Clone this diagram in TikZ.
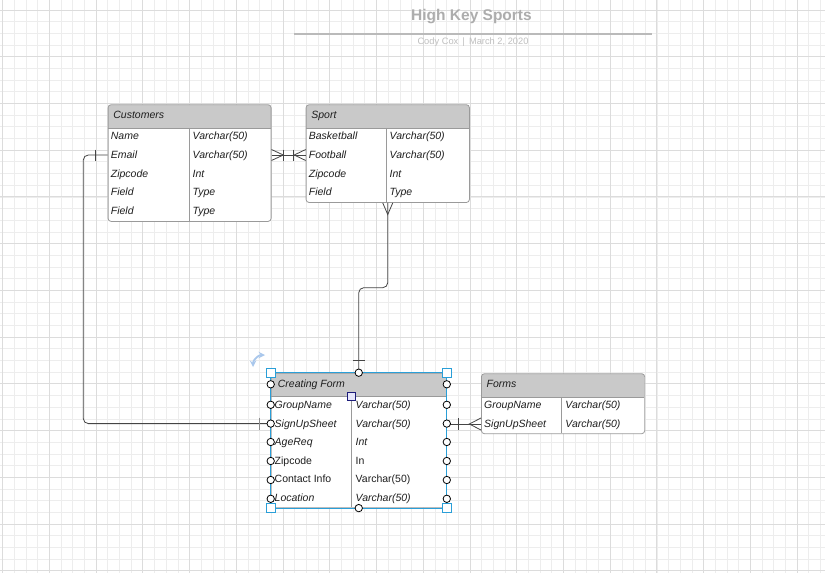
\documentclass[tikz,border=0pt]{standalone}
\usepackage{fontspec}
\setmainfont{Liberation Sans}
\usepackage{tikz}
\definecolor{minorgray}{HTML}{EDEDED}
\definecolor{majorgray}{HTML}{DCDCDC}
\definecolor{tblgray}{HTML}{9A9A9A}
\definecolor{hdrgray}{HTML}{C9C9C9}
\definecolor{txtcol}{HTML}{1E1E1E}
\definecolor{conncol}{HTML}{454545}
\definecolor{selblue}{HTML}{2A9FD8}
\definecolor{rotblue}{HTML}{A9C7EC}
\definecolor{navy}{HTML}{1C1C7A}
\definecolor{lavender}{HTML}{E6E6FA}
\tikzstyle{minorgrid} = [draw=minorgray, line width=0.8pt]
\tikzstyle{majorgrid} = [draw=majorgray, line width=0.9pt]
\tikzstyle{tablebox} = [draw=tblgray, fill=white, rounded corners=3pt, line width=0.8pt,
inner sep=0pt, anchor=north west, path picture={
  \fill[hdrgray, sharp corners] (path picture bounding box.north west) rectangle ([yshift=-23.5pt]path picture bounding box.north east);
  \draw[tblgray, line width=0.8pt, sharp corners] ([yshift=-23.5pt]path picture bounding box.north west) -- ([yshift=-23.5pt]path picture bounding box.north east);}]
\tikzstyle{tblline} = [draw=tblgray, line width=0.8pt]
\tikzstyle{fld} = [anchor=west, inner xsep=3pt, inner ysep=0pt, text height=7.5pt,
text depth=0.5pt, text=txtcol, font=\fontsize{10.5}{12}\selectfont\itshape]
\tikzstyle{fldup} = [fld, font=\fontsize{10.5}{12}\selectfont\upshape]
\tikzstyle{hdrtext} = [fld, inner xsep=5.5pt]
\tikzstyle{conn} = [draw=conncol, line width=0.8pt]
\tikzstyle{cpt} = [draw=black, circle, fill=white, minimum size=7.4pt, inner sep=0pt, line width=0.8pt]
\tikzstyle{handle} = [draw=selblue, fill=white, minimum size=8.5pt, inner sep=0pt, line width=0.9pt]

\begin{document}
\begin{tikzpicture}[x=1pt, y=-1pt]
    \useasboundingbox (0,0) rectangle (825,573);
    \fill[white] (0,0) rectangle (825,573);
    % grid
    \foreach \i in {0,...,70} \draw[minorgrid] ({2.7+11.683*\i},0) -- ++(0,573);
    \foreach \j in {0,...,48} \draw[minorgrid] (0,{10+11.683*\j}) -- ++(825,0);
    \foreach \i in {0,...,17} \draw[majorgrid] ({2.7+46.73*\i},0) -- ++(0,573);
    \foreach \j in {0,...,12} \draw[majorgrid] (0,{10+46.73*\j}) -- ++(825,0);

    % title
    \node[text=black!32, font=\fontsize{15.5}{18}\selectfont\bfseries] (title) at (471.5,16.5) {High Key Sports};
    \draw[draw=black!27, line width=1.4pt] (294,34) -- (652,34);
    \node[text=black!25, font=\fontsize{9.3}{11}\selectfont] (byline) at (473,42.5) {Cody Cox \,|\, March 2, 2020};

    % Customers
    \node[tablebox, minimum width=163, minimum height=116.7] (cust) at (107.7,104.3) {};
    \draw[tblline] (189,127.8) -- (189,221);
    \node[hdrtext] (custh) at (107.7,115) {Customers};
    \node[fld] (cname) at (107.7,136.3) {Name};
    \node[fld] (cemail) at (107.7,155) {Email};
    \node[fld] (czip) at (107.7,173.7) {Zipcode};
    \node[fld] (cfield) at (107.7,192.4) {Field};
    \node[fld] (cfieldb) at (107.7,211.1) {Field};
    \node[fld] (cnamet) at (189.5,136.3) {Varchar(50)};
    \node[fld] (cemailt) at (189.5,155) {Varchar(50)};
    \node[fld] (czipt) at (189.5,173.7) {Int};
    \node[fld] (cfieldt) at (189.5,192.4) {Type};
    \node[fld] (cfieldbt) at (189.5,211.1) {Type};

    % Sport
    \node[tablebox, minimum width=163.3, minimum height=97.8] (sport) at (305.7,104.3) {};
    \draw[tblline] (386,127.8) -- (386,202.1);
    \node[hdrtext] (sporth) at (305.7,115) {Sport};
    \node[fld] (sbask) at (305.7,136.3) {Basketball};
    \node[fld] (sfoot) at (305.7,155) {Football};
    \node[fld] (szip) at (305.7,173.7) {Zipcode};
    \node[fld] (sfield) at (305.7,192.4) {Field};
    \node[fld] (sbaskt) at (386.5,136.3) {Varchar(50)};
    \node[fld] (sfoott) at (386.5,155) {Varchar(50)};
    \node[fld] (szipt) at (386.5,173.7) {Int};
    \node[fld] (sfieldt) at (386.5,192.4) {Type};

    % Creating Form
    \node[tablebox, minimum width=175.3, minimum height=134.6] (cform) at (270.7,372.7) {};
    \draw[tblline] (351.3,396.2) -- (351.3,507.3);
    \node[hdrtext] (cformh) at (272.2,384) {Creating Form};
    \node[fld] (cfgroup) at (271.5,405) {GroupName};
    \node[fld] (cfsign) at (271.5,423.6) {SignUpSheet};
    \node[fld] (cfage) at (271.5,442.2) {AgeReq};
    \node[fldup] (cfzip) at (271.5,460.8) {Zipcode};
    \node[fldup] (cfcontact) at (271.5,479.4) {Contact Info};
    \node[fld] (cfloc) at (271.5,498) {Location};
    \node[fld] (cfgroupt) at (352.5,405) {Varchar(50)};
    \node[fld] (cfsignt) at (352.5,423.6) {Varchar(50)};
    \node[fld] (cfaget) at (352.5,442.2) {Int};
    \node[fldup] (cfzipt) at (352.5,460.8) {In};
    \node[fldup] (cfcontactt) at (352.5,479.4) {Varchar(50)};
    \node[fld] (cfloct) at (352.5,498) {Varchar(50)};

    % Forms
    \node[tablebox, minimum width=163.3, minimum height=60] (forms) at (481,373.3) {};
    \draw[tblline] (561.7,396.8) -- (561.7,433.3);
    \node[hdrtext] (formsh) at (481,383.5) {Forms};
    \node[fld] (fgroup) at (481,405.3) {GroupName};
    \node[fld] (fsign) at (481,424) {SignUpSheet};
    \node[fld] (fgroupt) at (562.2,405.3) {Varchar(50)};
    \node[fld] (fsignt) at (562.2,424) {Varchar(50)};

    % Customers -- Sport
    \coordinate (ce) at (cust.east |- cemail);
    \coordinate (sw) at (sport.west |- cemail);
    \draw[conn] (ce) -- (sw);
    \draw[conn] ([yshift=5.5pt]ce) -- ([xshift=11.8pt]ce) -- ([yshift=-5.5pt]ce);
    \draw[conn] ([xshift=11.8pt,yshift=5.5pt]ce) -- ([xshift=11.8pt,yshift=-5.5pt]ce);
    \draw[conn] ([yshift=5.5pt]sw) -- ([xshift=-11.5pt]sw) -- ([yshift=-5.5pt]sw);
    \draw[conn] ([xshift=-12.5pt,yshift=5.5pt]sw) -- ([xshift=-12.5pt,yshift=-5.5pt]sw);

    % Sport -- Creating Form
    \coordinate (bend) at (0,287.7);
    \draw[conn, rounded corners=5pt] (sport.south) |- (bend -| cform.north) -- (cform.north);
    \draw[conn] ([xshift=-5pt]sport.south) -- ([yshift=-11.6pt]sport.south) -- ([xshift=5pt]sport.south);
    \draw[conn] ([xshift=-6pt,yshift=12pt]cform.north) -- ([xshift=6pt,yshift=12pt]cform.north);

    % Customers -- Creating Form
    \coordinate (cw) at (cust.west |- cemail);
    \coordinate (lbend) at (83.3,155);
    \coordinate (fw) at (cform.west |- cfsign);
    \draw[conn, rounded corners=5pt] (cw) -- (lbend) |- (fw);
    \draw[conn] ([xshift=-12.5pt,yshift=5.5pt]cw) -- ([xshift=-12.5pt,yshift=-5.5pt]cw);
    \draw[draw=black!45, line width=0.8pt] ([xshift=-11.5pt,yshift=6pt]fw) -- ([xshift=-11.5pt,yshift=-6pt]fw);

    % Creating Form -- Forms
    \coordinate (fe) at (cform.east |- fsign);
    \coordinate (ff) at (forms.west |- fsign);
    \draw[conn] (fe) -- (ff);
    \draw[conn] ([xshift=11.3pt,yshift=6pt]fe) -- ([xshift=11.3pt,yshift=-6pt]fe);
    \draw[conn] ([yshift=6pt]ff) -- ([xshift=-11.7pt]ff) -- ([yshift=-6pt]ff);

    % selection of Creating Form
    \draw[draw=selblue, line width=1pt] (cform.north west) rectangle (cform.south east);
    \foreach \y [count=\k] in {384.3,404.8,423.6,442,461,480,498.8} {
        \node[cpt] (cl\k) at (cform.west |- 0,\y) {};
        \node[cpt] (cr\k) at (cform.east |- 0,\y) {};
    }
    \node[cpt] (ctop) at (cform.north) {};
    \node[cpt] (cbot) at (cform.south) {};
    \node[draw=navy, fill=lavender, minimum size=8.5pt, inner sep=0pt, line width=0.9pt] (split) at (351.3,396.2) {};
    \foreach \a [count=\k] in {north west, north east, south west, south east}
        \node[handle] (hd\k) at (cform.\a) {};
    \draw[draw=rotblue, line width=1.8pt, <->, >=stealth] (253,367) arc[start angle=180, end angle=270, radius=12];
\end{tikzpicture}
\end{document}
